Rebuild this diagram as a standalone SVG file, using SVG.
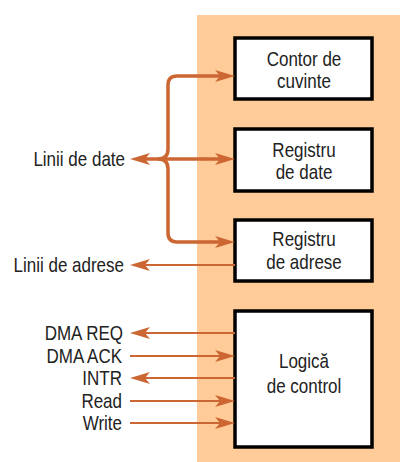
<svg xmlns="http://www.w3.org/2000/svg" width="400" height="462" viewBox="0 0 400 462">
<defs>
<marker id="ah" markerUnits="userSpaceOnUse" viewBox="0 0 20 12" refX="5" refY="6" markerWidth="20" markerHeight="12" orient="auto-start-reverse">
<path d="M0,0 L20,6 L0,12 L5,6 z" fill="#CC6633"/>
</marker>
</defs>
<style>
text{font-family:"Liberation Sans",Arial,sans-serif;font-size:20px;fill:#222}
.box{fill:#fff;stroke:#000;stroke-width:3.5}
.c{text-anchor:middle}
.r{text-anchor:end}
.bus{fill:none;stroke:#CC6633;stroke-width:3.5}
.ln{fill:none;stroke:#CC6633;stroke-width:2}
</style>
<rect x="197" y="15" width="203" height="447" fill="#FFCC99"/>
<g id="contor">
<rect class="box" x="235" y="38" width="137" height="61"/>
<text class="c" transform="translate(304 66) scale(0.85 1)">Contor de</text>
<text class="c" transform="translate(304 88) scale(0.85 1)">cuvinte</text>
</g>
<g id="regdate">
<rect class="box" x="235" y="129" width="137" height="62"/>
<text class="c" transform="translate(304 157) scale(0.85 1)">Registru</text>
<text class="c" transform="translate(304 179) scale(0.85 1)">de date</text>
</g>
<g id="regadrese">
<rect class="box" x="235" y="220" width="137" height="61"/>
<text class="c" transform="translate(304 246) scale(0.85 1)">Registru</text>
<text class="c" transform="translate(304 269) scale(0.85 1)">de adrese</text>
</g>
<g id="logica">
<rect class="box" x="235" y="311" width="137" height="136"/>
<text class="c" transform="translate(304 368) scale(0.85 1)">Logică</text>
<text class="c" transform="translate(304 393) scale(0.85 1)">de control</text>
</g>
<g id="labels">
<text class="r" transform="translate(125 166) scale(0.85 1)">Linii de date</text>
<text class="r" transform="translate(124 272) scale(0.85 1)">Linii de adrese</text>
<text class="r" transform="translate(123 340) scale(0.85 1)">DMA REQ</text>
<text class="r" transform="translate(122 363) scale(0.85 1)">DMA ACK</text>
<text class="r" transform="translate(122 385) scale(0.85 1)">INTR</text>
<text class="r" transform="translate(122 408) scale(0.85 1)">Read</text>
<text class="r" transform="translate(122 430) scale(0.85 1)">Write</text>
</g>
<g id="connectors">
<path class="bus" d="M145,159 L220,159" marker-start="url(#ah)" marker-end="url(#ah)"/>
<path class="bus" d="M158,159 Q168,159 168,149 L168,85 Q168,76 177,76 L220,76" marker-end="url(#ah)"/>
<path class="bus" d="M158,159 Q168,159 168,169 L168,233 Q168,242 177,242 L220,242" marker-end="url(#ah)"/>
<path class="ln" d="M235,265 L145,265" marker-end="url(#ah)"/>
<path class="ln" d="M235,333 L145,333" marker-end="url(#ah)"/>
<path class="ln" d="M130,356 L220,356" marker-end="url(#ah)"/>
<path class="ln" d="M235,378 L145,378" marker-end="url(#ah)"/>
<path class="ln" d="M130,401 L220,401" marker-end="url(#ah)"/>
<path class="ln" d="M130,423 L220,423" marker-end="url(#ah)"/>
</g>
</svg>
